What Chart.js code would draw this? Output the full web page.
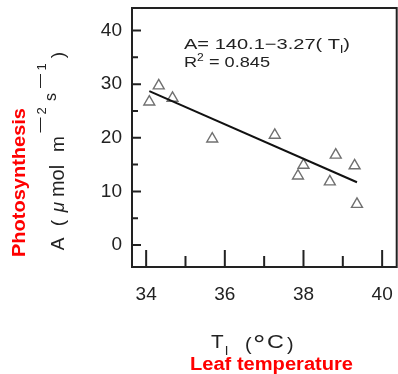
<!DOCTYPE html>
<html>
<head>
<meta charset="utf-8">
<script src="https://cdn.jsdelivr.net/npm/chart.js@4.4.0/dist/chart.umd.min.js"></script>
<style>
  html, body { margin: 0; padding: 0; background: #fff; }
</style>
</head>
<body>
<canvas id="myChart" width="398" height="374"></canvas>
<script>
// leaf temperature (°C) and photosynthesis (µmol m-2 s-1)
const leafTemp = [34.08, 34.32, 34.67, 35.68, 37.27, 38.0, 37.86, 38.82, 38.67, 39.3, 39.36];
const photosynthesis = [26.7, 29.7, 27.4, 19.8, 20.5, 14.9, 12.9, 16.8, 11.8, 14.8, 7.6];
// ends of the regression line
const fitTemp = [34.08, 39.36];
const fitA = [28.7, 11.7];

const xTicks = [34, 36, 38, 40];
const xMinor = [35, 37, 39];
const yTicks = [0, 10, 20, 30, 40];
const yMinor = [5, 15, 25, 35];

const FONT = "'Liberation Sans', Arial, sans-serif";
const INK = '#222';

// draw a run of text pieces one after another, stretched horizontally by sx
function run(ctx, parts, x, y, sx) {
  ctx.save();
  ctx.translate(x, y);
  ctx.scale(sx, 1);
  let cx = 0;
  parts.forEach(([t, f, dy]) => {
    ctx.font = f;
    ctx.fillText(t, cx, dy || 0);
    cx += ctx.measureText(t).width;
  });
  ctx.restore();
}
function runWidth(ctx, parts) {
  let w = 0;
  parts.forEach(([t, f]) => { ctx.font = f; w += ctx.measureText(t).width; });
  return w;
}

const frameAndText = {
  id: 'frameAndText',
  afterDatasetsDraw(chart) {
    const { ctx, chartArea: a, scales: { x, y } } = chart;
    ctx.save();
    // box
    ctx.strokeStyle = INK;
    ctx.lineWidth = 2;
    ctx.strokeRect(a.left, a.top, a.right - a.left, a.bottom - a.top);
    // inward ticks
    ctx.beginPath();
    xTicks.forEach(v => { const px = x.getPixelForValue(v); ctx.moveTo(px, a.bottom); ctx.lineTo(px, a.bottom - 17); });
    xMinor.forEach(v => { const px = x.getPixelForValue(v); ctx.moveTo(px, a.bottom); ctx.lineTo(px, a.bottom - 11); });
    yTicks.forEach(v => { const py = y.getPixelForValue(v); ctx.moveTo(a.left, py); ctx.lineTo(a.left + 9, py); });
    yMinor.forEach(v => { const py = y.getPixelForValue(v); ctx.moveTo(a.left, py); ctx.lineTo(a.left + 6, py); });
    ctx.stroke();
    ctx.restore();
  },
  afterDraw(chart) {
    const ctx = chart.ctx;
    ctx.save();
    ctx.fillStyle = INK;
    ctx.textBaseline = 'alphabetic';
    ctx.textAlign = 'left';

    // regression equation
    const f15 = '15px ' + FONT, f11 = '11px ' + FONT, f10 = '10px ' + FONT;
    const eq1 = [['A= 140.1\u22123.27( T', f15], ['l', f11, 4], [')', f15]];
    const eq2 = [['R', f15], ['2', f10, -6], [' = 0.845', f15]];
    run(ctx, eq1, 184, 49, 166 / runWidth(ctx, eq1));
    run(ctx, eq2, 184, 67, 86 / runWidth(ctx, eq2));

    // x axis title  T_l (°C)
    const f18 = '18px ' + FONT;
    run(ctx, [['T', f18]], 211, 348, 1.15);
    run(ctx, [['l', '13px ' + FONT]], 225, 355, 1.1);
    run(ctx, [['(', f18]], 245, 350, 1.1);
    run(ctx, [['\u00b0', '28px ' + FONT]], 253, 354, 1.1);
    run(ctx, [['C', f18]], 267, 348, 1.3);
    run(ctx, [[')', f18]], 287, 350, 1.1);

    // y axis title, rotated
    ctx.save();
    ctx.translate(64, 0);
    ctx.rotate(-Math.PI / 2);
    ctx.textAlign = 'center';
    const f19 = '19px ' + FONT;
    [
      [244, 'A', f19, 0],
      [223, '(', f19, 0],
      [207, '\u03bc', 'italic 19px ' + FONT, 0],
      [181, 'mol', '20px ' + FONT, 0],
      [144, 'm', f19, 0],
      [125, '\u2014', '15px ' + FONT, 20],
      [111, '2', '13px ' + FONT, 18],
      [97, 's', '16px ' + FONT, 8],
      [81, '\u2014', '14px ' + FONT, 20],
      [67, '1', '13px ' + FONT, 18],
      [55, ')', f19, 0]
    ].forEach(([c, t, f, up]) => { ctx.font = f; ctx.fillText(t, -c, -up); });
    ctx.restore();

    // red captions
    ctx.fillStyle = '#ff0000';
    const fb = 'bold 18px ' + FONT;
    const leaf = [['Leaf temperature', fb]];
    const lw = runWidth(ctx, leaf);
    run(ctx, leaf, 271.5 - 163 / 2, 370, 163 / lw);

    ctx.save();
    ctx.translate(25, 182.5);
    ctx.rotate(-Math.PI / 2);
    const ph = [['Photosynthesis', 'bold 19px ' + FONT]];
    const pw = runWidth(ctx, ph);
    run(ctx, ph, -149 / 2, 0, 149 / pw);
    ctx.restore();

    ctx.restore();
  }
};

const ctx = document.getElementById('myChart');
new Chart(ctx, {
  type: 'scatter',
  data: {
    datasets: [
      {
        label: 'fit',
        data: fitTemp.map((t, i) => ({ x: t, y: fitA[i] })),
        showLine: true,
        borderColor: '#111',
        borderWidth: 2,
        pointRadius: 0
      },
      {
        label: 'A',
        data: leafTemp.map((t, i) => ({ x: t, y: photosynthesis[i] })),
        pointStyle: 'triangle',
        pointRadius: 6.3,
        borderWidth: 1.4,
        borderColor: '#707070',
        backgroundColor: 'rgba(255,255,255,0)'
      }
    ]
  },
  options: {
    responsive: false,
    animation: false,
    devicePixelRatio: 1,
    layout: { autoPadding: false, padding: { top: 8, right: 1.3, left: 0, bottom: 0 } },
    plugins: { legend: { display: false }, tooltip: { enabled: false } },
    scales: {
      x: {
        type: 'linear',
        min: 33.64,
        max: 40.37,
        afterBuildTicks: s => { s.ticks = xTicks.map(v => ({ value: v })); },
        afterFit: s => { s.height = 107; s.paddingLeft = 0; s.paddingRight = 0; },
        grid: { display: false, drawTicks: false },
        border: { display: false },
        ticks: { color: INK, padding: 16, font: { family: FONT, size: 19 } }
      },
      y: {
        min: -4.1,
        max: 44.2,
        afterBuildTicks: s => { s.ticks = yTicks.map(v => ({ value: v })); },
        afterFit: s => { s.width = 132; s.paddingTop = 0; s.paddingBottom = 0; },
        grid: { display: false, drawTicks: false },
        border: { display: false },
        ticks: { color: INK, padding: 10, font: { family: FONT, size: 19 } }
      }
    }
  },
  plugins: [frameAndText]
});
</script>
</body>
</html>
